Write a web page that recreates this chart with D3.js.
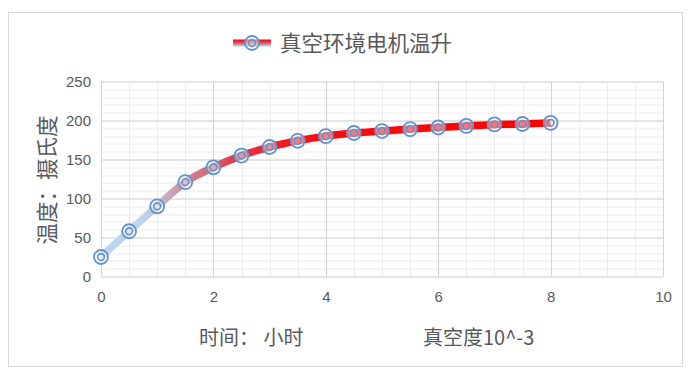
<!DOCTYPE html>
<html>
<head>
<meta charset="utf-8">
<script src="https://cdn.jsdelivr.net/npm/d3@7"></script>
<style>
  body { margin: 0; background: #fff; }
  text { font-family: "Noto Sans CJK SC", "Noto Sans", sans-serif; fill: #595959; }
  .num { font-family: "Liberation Sans", "Open Sans", sans-serif; }
</style>
</head>
<body>
<div id="chart"></div>
<script>
// data
var hours = [0, 0.5, 1, 1.5, 2, 2.5, 3, 3.5, 4, 4.5, 5, 5.5, 6, 6.5, 7, 7.5, 8];
var temps = [25, 58, 90, 121, 140, 155, 166, 174, 180, 184, 186.5, 189, 191, 193, 195, 195.5, 197];
var xTicks = [0, 2, 4, 6, 8, 10];
var yTicks = [0, 50, 100, 150, 200, 250];
var seriesName = "真空环境电机温升";
var yTitle = "温度：摄氏度";

var W = 691, H = 378;
var margin = { top: 81.5, right: 28, bottom: 101.5, left: 101 };
var width = W - margin.left - margin.right,
    height = H - margin.top - margin.bottom;

var svg = d3.select("#chart").append("svg")
    .attr("width", W)
    .attr("height", H);

// chart border
svg.append("rect")
    .attr("x", 8.5).attr("y", 12.5)
    .attr("width", 674).attr("height", 354)
    .attr("fill", "#fff").attr("stroke", "#d9d9d9");

var defs = svg.append("defs");

var g = svg.append("g")
    .attr("transform", "translate(" + margin.left + "," + margin.top + ")");

var x = d3.scaleLinear().domain([0, 10]).range([0, width]);
var y = d3.scaleLinear().domain([0, 250]).range([height, 0]);

// minor grid
g.append("g").selectAll("line")
    .data(d3.range(0, 10.01, 0.5))
    .enter().append("line")
    .attr("x1", function (d) { return Math.round(x(d)) + 0.5; })
    .attr("x2", function (d) { return Math.round(x(d)) + 0.5; })
    .attr("y1", 0).attr("y2", height)
    .attr("stroke", "#ececec");
g.append("g").selectAll("line")
    .data(d3.range(0, 250.1, 10))
    .enter().append("line")
    .attr("y1", function (d) { return Math.round(y(d)) + 0.5; })
    .attr("y2", function (d) { return Math.round(y(d)) + 0.5; })
    .attr("x1", 0).attr("x2", width)
    .attr("stroke", "#ececec");

// major grid
g.append("g").selectAll("line")
    .data(xTicks)
    .enter().append("line")
    .attr("x1", function (d) { return Math.round(x(d)) + 0.5; })
    .attr("x2", function (d) { return Math.round(x(d)) + 0.5; })
    .attr("y1", 0).attr("y2", height)
    .attr("stroke", "#d4d4d4");
g.append("g").selectAll("line")
    .data(yTicks)
    .enter().append("line")
    .attr("y1", function (d) { return Math.round(y(d)) + 0.5; })
    .attr("y2", function (d) { return Math.round(y(d)) + 0.5; })
    .attr("x1", 0).attr("x2", width)
    .attr("stroke", "#d4d4d4");

// axes (labels only)
var xAxis = d3.axisBottom(x).tickValues(xTicks).tickSize(0).tickPadding(15);
var yAxis = d3.axisLeft(y).tickValues(yTicks).tickSize(0).tickPadding(10);

g.append("g")
    .attr("transform", "translate(0," + height + ")")
    .call(xAxis)
    .call(function (s) { s.select(".domain").remove(); })
    .selectAll("text").attr("class", "num").style("font-size", "15px");

g.append("g")
    .call(yAxis)
    .call(function (s) { s.select(".domain").remove(); })
    .selectAll("text").attr("class", "num").style("font-size", "15px");

// gradient along the line
var grad = defs.append("linearGradient")
    .attr("id", "lineGrad")
    .attr("gradientUnits", "userSpaceOnUse")
    .attr("x1", x(0)).attr("x2", x(8))
    .attr("y1", 0).attr("y2", 0);
[[0, "#bdd7ee"], [0.1, "#bdd4ea"], [0.2, "#d0808f"], [0.3, "#e03848"], [0.45, "#fb0d12"], [1, "#ff0000"]]
    .forEach(function (s) {
        grad.append("stop").attr("offset", s[0]).attr("stop-color", s[1]);
    });

var pts = hours.map(function (h, i) { return [h, temps[i]]; });

var line = d3.line()
    .x(function (d) { return x(d[0]); })
    .y(function (d) { return y(d[1]); })
    .curve(d3.curveCatmullRom.alpha(0));

g.append("path")
    .datum(pts)
    .attr("d", line)
    .attr("fill", "none")
    .attr("stroke", "url(#lineGrad)")
    .attr("stroke-width", 7.5)
    .attr("stroke-linejoin", "round");

function drawMarker(sel) {
    sel.append("circle").attr("r", 7)
        .attr("fill", "rgba(255,255,255,0.45)")
        .attr("stroke", "#6193cc").attr("stroke-width", 1.8);
    sel.append("circle").attr("r", 3.4)
        .attr("fill", "none")
        .attr("stroke", "#6193cc").attr("stroke-width", 1.6);
}

g.selectAll(".marker")
    .data(pts)
    .enter().append("g")
    .attr("class", "marker")
    .attr("transform", function (d) { return "translate(" + x(d[0]) + "," + y(d[1]) + ")"; })
    .call(drawMarker);

// legend
var legGrad = defs.append("linearGradient")
    .attr("id", "legGrad")
    .attr("x1", 0).attr("x2", 0).attr("y1", 0).attr("y2", 1);
legGrad.append("stop").attr("offset", 0).attr("stop-color", "#ff0000");
legGrad.append("stop").attr("offset", 0.4).attr("stop-color", "#e04050");
legGrad.append("stop").attr("offset", 1).attr("stop-color", "#bdd7ee");

var legend = svg.append("g").attr("transform", "translate(233,43)");
legend.append("rect")
    .attr("x", 0).attr("y", -3.5)
    .attr("width", 38).attr("height", 7)
    .attr("fill", "url(#legGrad)");
legend.append("g").attr("transform", "translate(19,0)").call(drawMarker);
legend.append("text")
    .attr("x", 47).attr("y", 8)
    .style("font-size", "21.5px")
    .text(seriesName);

// axis titles
svg.append("text")
    .attr("transform", "translate(45," + (margin.top + height / 2 + 1) + ") rotate(-90)")
    .attr("text-anchor", "middle")
    .attr("dominant-baseline", "central")
    .style("font-size", "21.5px")
    .text(yTitle);

svg.append("text")
    .attr("x", 199).attr("y", 345)
    .style("font-size", "20px")
    .text("时间： 小时");

svg.append("text")
    .attr("x", 423).attr("y", 345)
    .style("font-size", "20px")
    .text("真空度10^-3");
</script>
</body>
</html>
